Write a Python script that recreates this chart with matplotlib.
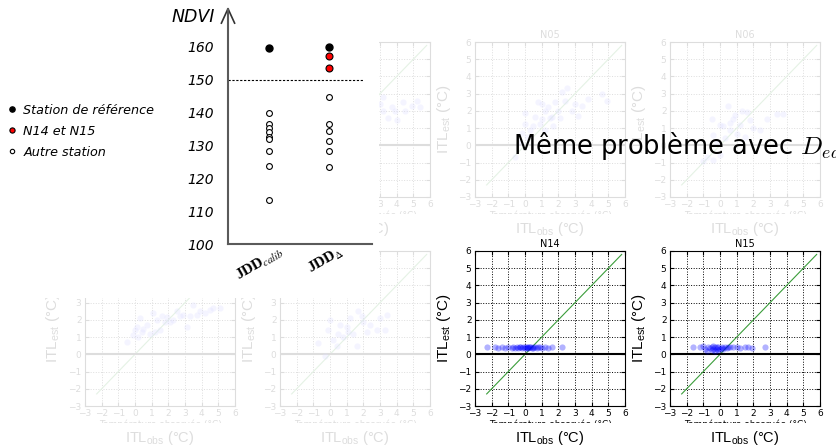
import matplotlib
matplotlib.use('Agg')
import matplotlib.pyplot as plt
from matplotlib.patches import Rectangle
from matplotlib.transforms import ScaledTranslation

plt.rcParams['mathtext.fontset'] = 'custom'
plt.rcParams['mathtext.rm'] = 'Liberation Sans'
plt.rcParams['mathtext.it'] = 'Liberation Sans:italic'
plt.rcParams['mathtext.bf'] = 'Liberation Sans:bold'

# --- NDVI panel data
jdd_labels = ['JDD$_{calib}$', 'JDD$_{\\Delta}$']
ndvi_ref = [159.5, 160.0]            # station de reference (calib, delta)
ndvi_n1415_delta = [157.2, 153.6]    # N14 et N15 (delta)
ndvi_autre_calib = [139.8, 136.5, 135.2, 134.2, 132.7, 131.8, 128.3, 123.8, 113.3]
ndvi_autre_delta = [144.6, 136.5, 134.5, 131.2, 128.3, 123.5]
ndvi_seuil = 150
ndvi_ticks = [100, 110, 120, 130, 140, 150, 160]

# --- station scatter data (ITL obs / est)
b_obs = [0.5, 1.0, 1.5, 2.0, 2.5, 3.0, 3.2, 3.2, 3.5, 3.7, 3.9, 4.0, 4.4, 4.5, 4.9, 5.2, 5.4]
b_est = [1.0, 1.5, 1.8, 2.0, 2.2, 2.4, 2.8, 2.0, 1.6, 2.2, 2.0, 1.45, 2.5, 2.0, 2.3, 2.6, 2.2]

n05_obs = [-0.6, -0.3, -0.2, 0.0, 0.0, 0.1, 0.3, 0.6, 0.8, 0.9, 1.0, 1.2, 1.2, 1.5, 1.6, 1.8,
           2.0, 2.2, 2.4, 2.5, 2.8, 3.0, 3.2, 3.4, 3.8, 4.6, 4.9, 1.0, 1.7, 2.1, 0.5, 1.4]
n05_est = [-0.7, 0.2, 0.7, 1.9, 1.26, 0.5, 0.9, 1.65, 2.5, 1.26, 2.4, 2.0, 0.9, 1.6, 1.65, 2.5,
           2.0, 3.07, 2.6, 3.3, 2.0, 2.4, 1.7, 2.3, 2.7, 3.0, 2.6, 1.5, 1.1, 1.6, 1.1, 2.2]

n06_obs = [-1.0, -0.8, -0.5, -0.4, -0.2, 0.0, 0.0, 0.2, 0.5, 0.6, 0.6, 0.9, 1.0,
           1.2, 1.3, 1.6, 1.8, 2.0, 2.4, 2.8, 3.4, 3.8, 0.3, 1.5, 0.8, -0.4]
n06_est = [-0.9, -0.7, 1.55, -0.87, 0.19, 1.16, -0.58, 1.1, 2.3, 0.87, 1.3, 1.74, 0.68,
           1.16, 2.0, 1.94, 1.45, 1.0, 0.87, 1.55, 1.84, 1.84, 0.4, 0.5, 1.5, 0.6]

c_obs = [-0.5, 0.0, -0.1, 0.1, 0.2, 0.3, 0.4, 0.5, 0.7, 0.9, 1.1, 1.2, 1.3, 1.5, 1.6, 1.8,
         1.9, 2.1, 2.3, 2.5, 2.7, 2.9, 3.1, 3.3, 3.5, 3.7, 3.9, 4.2, 4.5, 4.7, 5.1]
c_est = [0.7, 1.4, 1.1, 1.6, 1.0, 2.1, 1.3, 1.5, 1.7, 1.2, 2.4, 1.3, 2.0, 1.4, 2.2, 1.9,
         2.15, 1.9, 2.0, 2.5, 2.2, 2.3, 1.6, 2.2, 2.85, 2.3, 2.5, 2.4, 2.6, 2.7, 2.7]

d_obs = [-0.7, -0.3, -0.1, 0.0, 0.2, 0.4, 0.6, 0.8, 1.0, 1.2, 1.4, 1.6,
         1.7, 2.0, 2.2, 2.4, 2.8, 3.0, 3.4, 3.3, 0.5, 1.1, 1.9]
d_est = [0.65, -0.1, 1.4, 2.0, 0.85, 0.46, 1.7, 1.0, 1.6, 2.1, 1.2, 0.46,
         2.5, 1.9, 1.3, 1.7, 1.4, 2.1, 2.3, 1.4, 1.2, 1.3, 2.2]

n14_obs = [-2.3, -1.8, -1.6, -1.4, -1.2, -1.0, -0.8, -0.7, -0.5, -0.4, -0.3, -0.2, -0.1, 0.0,
           0.0, 0.1, 0.2, 0.2, 0.3, 0.4, 0.5, 0.6, 0.7, 0.8, 1.0, 1.2, 1.4, 1.6, 2.2,
           -0.6, -0.3, 0.1, 0.3, 0.5, 0.9]
n14_est = [0.4, 0.4, 0.38, 0.4, 0.38, 0.4, 0.38, 0.4, 0.4, 0.38, 0.4, 0.38, 0.4, 0.38,
           0.42, 0.4, 0.38, 0.42, 0.4, 0.38, 0.4, 0.4, 0.38, 0.4, 0.38, 0.4, 0.38, 0.4, 0.4,
           0.36, 0.42, 0.36, 0.42, 0.36, 0.4]

n15_obs = [-1.6, -1.2, -1.0, -0.9, -0.8, -0.7, -0.6, -0.5, -0.5, -0.4, -0.4, -0.3, -0.3, -0.2,
           -0.2, -0.1, -0.1, 0.0, 0.1, 0.1, 0.2, 0.3, 0.4, 0.5, 0.6, 0.8, 1.0, 1.2, 1.5, 1.7,
           1.9, 2.7]
n15_est = [0.42, 0.45, 0.5, 0.3, 0.2, 0.4, 0.35, 0.45, 0.25, 0.3, 0.5, 0.2, 0.4, 0.3,
           0.45, 0.25, 0.4, 0.3, 0.35, 0.45, 0.3, 0.4, 0.35, 0.42, 0.4, 0.45, 0.4, 0.38, 0.45, 0.4,
           0.35, 0.45]

W, H = 836, 447
fig = plt.figure(figsize=(W / 100, H / 100), dpi=100)


def box(l, t, w, h):
    return [l / W, 1 - (t + h) / H, w / W, h / H]


def station(l, t, obs, est, titre=''):
    ax = fig.add_axes(box(l, t, 150, 155))
    ax.set_zorder(0)
    ax.scatter(obs, est, s=20, color='blue', alpha=0.3, lw=0, zorder=3)
    ax.plot([-2.3, 5.8], [-2.3, 5.8], color='#3a9d3a', lw=0.8, zorder=2)
    ax.axhline(0, color='k', lw=1.5, zorder=2)
    ax.set_xlim(-3, 6)
    ax.set_ylim(-3, 6)
    ax.set_xticks(range(-3, 7))
    ax.set_yticks(range(-3, 7))
    ax.grid(True, ls=':', color='k', lw=0.7)
    ax.tick_params(direction='in', top=True, right=True, length=3, labelsize=6.5, pad=2.5)
    for s in ax.spines.values():
        s.set_linewidth(0.8)
    ax.set_title(titre, fontsize=7, pad=3)
    ax.set_ylabel('ITL$_\\mathrm{est}$ (°C)', fontsize=11, family='Liberation Sans')
    ax.yaxis.set_label_coords(-0.15, 0.5)
    ax.set_xlabel('ITL$_\\mathrm{obs}$ (°C)', fontsize=10.5, family='Liberation Sans')
    ax.xaxis.set_label_coords(0.5, -0.15)
    ax.text(0.5, -0.088, 'Température observée (°C)', transform=ax.transAxes,
            ha='center', va='top', fontsize=6.5)
    # the old axis title is half hidden in the slide
    fig.add_artist(Rectangle(((l - 5) / W, 1 - (t + 178.5) / H), 160 / W, 7 / H,
                             transform=fig.transFigure, facecolor='white',
                             edgecolor='none', zorder=0.5))
    return ax


# top row (faded)
station(280, 42, b_obs, b_est)
station(475, 42, n05_obs, n05_est, 'N05')
station(670, 42, n06_obs, n06_est, 'N06')
# bottom row
station(85, 251, c_obs, c_est)
station(280, 251, d_obs, d_est)
station(475, 251, n14_obs, n14_est, 'N14')
station(670, 251, n15_obs, n15_est, 'N15')

# fading veils
fig.add_artist(Rectangle((0, 1 - 236 / H), 1, 236 / H, transform=fig.transFigure,
                         facecolor='white', edgecolor='none', alpha=0.87, zorder=1))
fig.add_artist(Rectangle((0, 0), 436 / W, 1 - 236 / H, transform=fig.transFigure,
                         facecolor='white', edgecolor='none', alpha=0.87, zorder=1))
# opaque NDVI box
fig.add_artist(Rectangle((0, 1 - 298 / H), 379 / W, 298 / H, transform=fig.transFigure,
                         facecolor='white', edgecolor='none', zorder=1.5))

# --- NDVI panel
ax = fig.add_axes(box(228, 9, 144, 235))
ax.set_zorder(2)
ax.patch.set_visible(False)
x0 = -41 / 60
ax.set_xlim(x0, x0 + 144 / 60)
ax.set_ylim(100, 171.5)
ax.plot([0, 1], ndvi_ref, 'o', color='k', ms=5, mec='k', label='Station de référence', zorder=4)
ax.plot([1] * len(ndvi_n1415_delta), ndvi_n1415_delta, 'o', color='red', ms=5, mec='k', mew=0.8,
        label='N14 et N15', zorder=4)
ax.plot([0] * len(ndvi_autre_calib), ndvi_autre_calib, 'o', mfc='white', mec='k', ms=4.2, mew=0.8,
        label='Autre station', zorder=3)
ax.plot([1] * len(ndvi_autre_delta), ndvi_autre_delta, 'o', mfc='white', mec='k', ms=4.2, mew=0.8,
        zorder=3)
ax.axhline(ndvi_seuil, xmin=0, xmax=0.94, color='k', ls=(0, (2, 1.5)), lw=0.8)
for side in ['top', 'right']:
    ax.spines[side].set_visible(False)
for side in ['left', 'bottom']:
    ax.spines[side].set_color('#5a5a5a')
    ax.spines[side].set_linewidth(1.5)
ax.plot([x0 - 0.11, x0, x0 + 0.11], [167.2, 171.6, 167.2], color='#333', lw=1.2, clip_on=False)
ax.set_yticks(ndvi_ticks)
ax.set_yticklabels([str(v) for v in ndvi_ticks], fontsize=10, style='italic')
ax.tick_params(axis='y', length=0, pad=10)
ax.set_xticks([0, 1])
ax.set_xticklabels(jdd_labels, rotation=30, ha='right', rotation_mode='anchor',
                   fontsize=11, fontweight='bold', family='Liberation Serif')
ax.tick_params(axis='x', length=0, pad=0)
for lbl in ax.get_xticklabels():
    lbl.set_math_fontfamily('stix')
    lbl.set_transform(lbl.get_transform() + ScaledTranslation(10 / 100, 0, fig.dpi_scale_trans))
fig.text(215 / W, 1 - 17.5 / H, 'NDVI', ha='right', va='center', fontsize=12.5,
         style='italic', zorder=3)
ax.legend(loc='upper left', bbox_to_anchor=(5.6 / W, 1 - 103.5 / H), bbox_transform=fig.transFigure,
          frameon=False, prop={'style': 'italic', 'size': 9.2}, handlelength=1,
          handletextpad=0.4, labelspacing=0.64, borderpad=0, borderaxespad=0, markerscale=0.75)

fig.text(513 / W, 1 - 154 / H, 'Même problème avec $D_{eau}$', fontsize=18.5, va='baseline',
         family='DejaVu Sans', math_fontfamily='cm', zorder=5)

fig.savefig('out.png', dpi=100)
